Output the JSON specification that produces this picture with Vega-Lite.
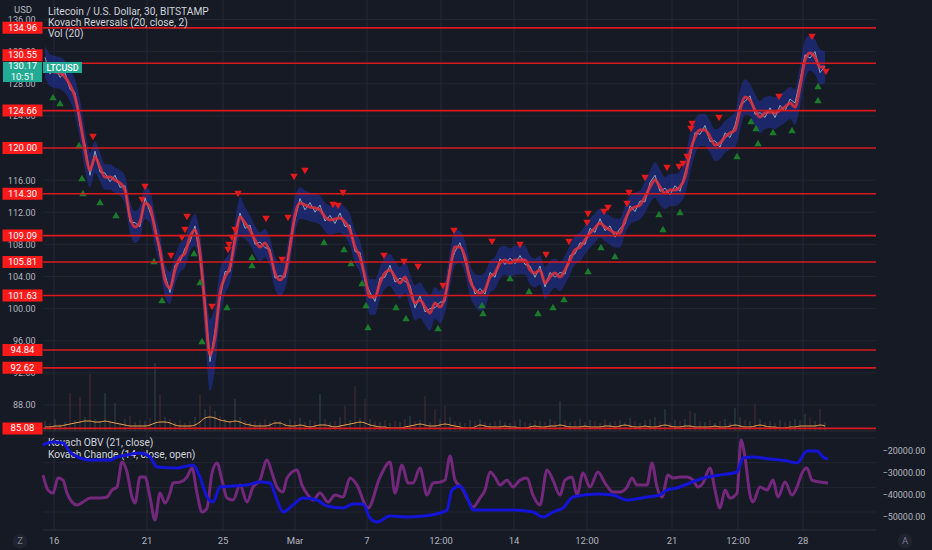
{
  "$schema": "https://vega.github.io/schema/vega-lite/v6.json",
  "description": "LTCUSD 30m with Kovach Reversals, Vol, Kovach OBV and Kovach Chande",
  "width": 833,
  "height": 530,
  "autosize": {"type": "none"},
  "padding": {"left": 43, "top": 0, "right": 56, "bottom": 20},
  "background": "#161a25",
  "config": {
    "view": {"stroke": null},
    "font": "Roboto",
    "axis": {"labelFont": "Roboto", "labelColor": "#b2b5be", "labelFontSize": 9, "grid": false, "domain": false, "ticks": false, "labelFlush": false, "labelOverlap": false, "labelBound": false}
  },
  "datasets": {
    "price": [
      {"i":0,"m":130.71,"h":132.71,"l":128.71,"c":131.3,"v":1000,"va":400},
      {"i":1,"m":129.71,"h":131.71,"l":127.71,"c":129.2,"v":800,"va":400},
      {"i":2,"m":129.46,"h":131.46,"l":127.46,"c":130.1,"v":1200,"va":500},
      {"i":3,"m":129.34,"h":131.34,"l":127.34,"c":128.8,"v":700,"va":500},
      {"i":4,"m":128.84,"h":130.84,"l":126.84,"c":129.4,"v":900,"va":600},
      {"i":5,"m":127.84,"h":129.84,"l":125.84,"c":127.3,"v":3800,"va":700},
      {"i":6,"m":126.35,"h":128.55,"l":124.15,"c":126.9,"v":1100,"va":800},
      {"i":7,"m":123.49,"h":125.99,"l":120.99,"c":122.8,"v":3400,"va":900},
      {"i":8,"m":119.75,"h":122.25,"l":117.25,"c":120.4,"v":1400,"va":1000},
      {"i":9,"m":117.26,"h":119.46,"l":115.06,"c":116.6,"v":5700,"va":1000},
      {"i":10,"m":118.88,"h":120.88,"l":116.88,"c":119.6,"v":1200,"va":900},
      {"i":11,"m":117.63,"h":119.43,"l":115.83,"c":117.0,"v":900,"va":900},
      {"i":12,"m":116.39,"h":117.99,"l":114.79,"c":116.9,"v":3800,"va":1000},
      {"i":13,"m":116.39,"h":117.99,"l":114.79,"c":115.8,"v":1000,"va":900},
      {"i":14,"m":116.01,"h":117.61,"l":114.41,"c":116.6,"v":2800,"va":800},
      {"i":15,"m":115.64,"h":117.24,"l":114.04,"c":115.1,"v":800,"va":700},
      {"i":16,"m":114.77,"h":116.57,"l":112.97,"c":115.3,"v":1200,"va":600},
      {"i":17,"m":111.41,"h":113.41,"l":109.41,"c":110.8,"v":1500,"va":500},
      {"i":18,"m":110.16,"h":112.16,"l":108.16,"c":110.7,"v":900,"va":500},
      {"i":19,"m":110.78,"h":112.78,"l":108.78,"c":110.2,"v":1100,"va":500},
      {"i":20,"m":113.15,"h":115.15,"l":111.15,"c":113.8,"v":1000,"va":500},
      {"i":21,"m":112.65,"h":114.65,"l":110.65,"c":112.0,"v":1300,"va":600},
      {"i":22,"m":109.79,"h":111.79,"l":107.79,"c":110.4,"v":6800,"va":800},
      {"i":23,"m":107.30,"h":109.30,"l":105.30,"c":106.7,"v":3700,"va":900},
      {"i":24,"m":103.56,"h":105.56,"l":101.56,"c":104.2,"v":1400,"va":900},
      {"i":25,"m":102.57,"h":104.57,"l":100.57,"c":102.0,"v":1200,"va":800},
      {"i":26,"m":104.81,"h":106.61,"l":103.01,"c":105.4,"v":900,"va":600},
      {"i":27,"m":106.30,"h":108.10,"l":104.50,"c":105.8,"v":1100,"va":500},
      {"i":28,"m":106.92,"h":108.72,"l":105.12,"c":107.5,"v":800,"va":500},
      {"i":29,"m":108.92,"h":110.72,"l":107.12,"c":108.3,"v":1000,"va":500},
      {"i":30,"m":109.79,"h":111.79,"l":107.79,"c":110.3,"v":1400,"va":600},
      {"i":31,"m":106.92,"h":109.42,"l":104.42,"c":106.2,"v":3700,"va":900},
      {"i":32,"m":100.20,"h":103.70,"l":96.70,"c":100.9,"v":2200,"va":1300},
      {"i":33,"m":94.22,"h":98.72,"l":89.72,"c":93.4,"v":2500,"va":1400},
      {"i":34,"m":96.46,"h":100.46,"l":92.46,"c":97.2,"v":2000,"va":1300},
      {"i":35,"m":101.94,"h":104.94,"l":98.94,"c":101.2,"v":1500,"va":1100},
      {"i":36,"m":103.94,"h":106.14,"l":101.74,"c":104.6,"v":1200,"va":1000},
      {"i":37,"m":105.18,"h":107.18,"l":103.18,"c":104.6,"v":1000,"va":900},
      {"i":38,"m":108.54,"h":110.74,"l":106.34,"c":109.2,"v":3200,"va":1000},
      {"i":39,"m":111.41,"h":113.91,"l":108.91,"c":111.9,"v":1400,"va":900},
      {"i":40,"m":110.66,"h":112.66,"l":108.66,"c":110.0,"v":1100,"va":700},
      {"i":41,"m":109.79,"h":111.59,"l":107.99,"c":110.4,"v":900,"va":600},
      {"i":42,"m":108.54,"h":110.34,"l":106.74,"c":108.0,"v":1000,"va":500},
      {"i":43,"m":107.67,"h":109.47,"l":105.87,"c":108.3,"v":800,"va":500},
      {"i":44,"m":108.17,"h":109.97,"l":106.37,"c":107.6,"v":1200,"va":500},
      {"i":45,"m":106.92,"h":108.72,"l":105.12,"c":107.4,"v":900,"va":600},
      {"i":46,"m":104.43,"h":106.43,"l":102.43,"c":103.8,"v":1100,"va":800},
      {"i":47,"m":103.56,"h":105.56,"l":101.56,"c":104.1,"v":1000,"va":800},
      {"i":48,"m":104.43,"h":106.43,"l":102.43,"c":103.9,"v":800,"va":600},
      {"i":49,"m":107.67,"h":109.87,"l":105.47,"c":108.3,"v":1200,"va":500},
      {"i":50,"m":111.66,"h":113.86,"l":109.46,"c":111.1,"v":1000,"va":500},
      {"i":51,"m":113.15,"h":115.15,"l":111.15,"c":113.7,"v":1300,"va":600},
      {"i":52,"m":112.90,"h":114.70,"l":111.10,"c":112.3,"v":900,"va":500},
      {"i":53,"m":112.65,"h":114.45,"l":110.85,"c":113.2,"v":1100,"va":400},
      {"i":54,"m":112.53,"h":114.33,"l":110.73,"c":112.0,"v":1000,"va":500},
      {"i":55,"m":112.28,"h":114.08,"l":110.48,"c":112.9,"v":3700,"va":600},
      {"i":56,"m":111.41,"h":113.21,"l":109.61,"c":110.9,"v":1200,"va":600},
      {"i":57,"m":111.03,"h":112.83,"l":109.23,"c":111.6,"v":900,"va":500},
      {"i":58,"m":111.16,"h":112.96,"l":109.36,"c":110.6,"v":1000,"va":400},
      {"i":59,"m":111.28,"h":113.08,"l":109.48,"c":111.9,"v":1400,"va":500},
      {"i":60,"m":110.78,"h":112.58,"l":108.98,"c":110.2,"v":2500,"va":600},
      {"i":61,"m":109.79,"h":111.79,"l":107.79,"c":110.4,"v":1100,"va":700},
      {"i":62,"m":107.67,"h":109.67,"l":105.67,"c":107.1,"v":4500,"va":800},
      {"i":63,"m":106.43,"h":108.43,"l":104.43,"c":107.0,"v":1300,"va":900},
      {"i":64,"m":103.94,"h":105.94,"l":101.94,"c":103.4,"v":3200,"va":800},
      {"i":65,"m":101.44,"h":103.64,"l":99.24,"c":102.0,"v":1200,"va":600},
      {"i":66,"m":101.44,"h":103.64,"l":99.24,"c":100.9,"v":1000,"va":500},
      {"i":67,"m":103.19,"h":105.19,"l":101.19,"c":103.8,"v":900,"va":400},
      {"i":68,"m":104.43,"h":106.43,"l":102.43,"c":103.9,"v":1100,"va":400},
      {"i":69,"m":104.81,"h":106.81,"l":102.81,"c":105.4,"v":800,"va":300},
      {"i":70,"m":103.94,"h":105.94,"l":101.94,"c":103.3,"v":1000,"va":300},
      {"i":71,"m":103.19,"h":105.19,"l":101.19,"c":103.8,"v":900,"va":300},
      {"i":72,"m":103.94,"h":105.94,"l":101.94,"c":103.4,"v":1200,"va":400},
      {"i":73,"m":102.32,"h":104.32,"l":100.32,"c":102.9,"v":1500,"va":500},
      {"i":74,"m":100.70,"h":102.90,"l":98.50,"c":100.1,"v":1000,"va":600},
      {"i":75,"m":101.07,"h":103.27,"l":98.87,"c":101.6,"v":1100,"va":700},
      {"i":76,"m":100.20,"h":102.40,"l":98.00,"c":99.6,"v":3500,"va":600},
      {"i":77,"m":99.45,"h":101.65,"l":97.25,"c":100.0,"v":900,"va":500},
      {"i":78,"m":100.70,"h":102.70,"l":98.70,"c":100.1,"v":2200,"va":500},
      {"i":79,"m":100.20,"h":102.20,"l":98.20,"c":100.8,"v":1200,"va":600},
      {"i":80,"m":101.44,"h":103.44,"l":99.44,"c":100.9,"v":2500,"va":700},
      {"i":81,"m":104.81,"h":107.01,"l":102.61,"c":105.4,"v":1400,"va":600},
      {"i":82,"m":107.67,"h":109.87,"l":105.47,"c":107.1,"v":1000,"va":500},
      {"i":83,"m":107.67,"h":109.67,"l":105.67,"c":108.2,"v":900,"va":400},
      {"i":84,"m":106.43,"h":108.43,"l":104.43,"c":105.9,"v":800,"va":300},
      {"i":85,"m":103.56,"h":105.56,"l":101.56,"c":104.1,"v":1100,"va":300},
      {"i":86,"m":102.32,"h":104.32,"l":100.32,"c":101.8,"v":1000,"va":400},
      {"i":87,"m":101.94,"h":104.14,"l":99.74,"c":102.5,"v":1200,"va":600},
      {"i":88,"m":102.32,"h":104.52,"l":100.12,"c":101.8,"v":900,"va":500},
      {"i":89,"m":103.94,"h":105.94,"l":101.94,"c":104.5,"v":800,"va":400},
      {"i":90,"m":104.43,"h":106.43,"l":102.43,"c":103.9,"v":1000,"va":400},
      {"i":91,"m":105.68,"h":107.68,"l":103.68,"c":106.2,"v":1100,"va":400},
      {"i":92,"m":106.05,"h":107.85,"l":104.25,"c":105.5,"v":900,"va":500},
      {"i":93,"m":105.68,"h":107.48,"l":103.88,"c":106.3,"v":800,"va":400},
      {"i":94,"m":106.05,"h":107.85,"l":104.25,"c":105.6,"v":1000,"va":400},
      {"i":95,"m":106.05,"h":107.85,"l":104.25,"c":106.6,"v":1200,"va":300},
      {"i":96,"m":106.05,"h":107.85,"l":104.25,"c":105.5,"v":900,"va":300},
      {"i":97,"m":104.81,"h":106.61,"l":103.01,"c":105.3,"v":800,"va":400},
      {"i":98,"m":104.43,"h":106.23,"l":102.63,"c":103.9,"v":1100,"va":500},
      {"i":99,"m":104.81,"h":106.61,"l":103.01,"c":105.3,"v":1000,"va":400},
      {"i":100,"m":103.19,"h":105.19,"l":101.19,"c":102.7,"v":900,"va":400},
      {"i":101,"m":103.94,"h":105.94,"l":101.94,"c":104.5,"v":1200,"va":500},
      {"i":102,"m":104.43,"h":106.23,"l":102.63,"c":103.9,"v":1000,"va":500},
      {"i":103,"m":103.94,"h":105.74,"l":102.14,"c":104.5,"v":3000,"va":600},
      {"i":104,"m":104.81,"h":106.61,"l":103.01,"c":104.3,"v":1100,"va":500},
      {"i":105,"m":106.05,"h":107.85,"l":104.25,"c":106.6,"v":900,"va":400},
      {"i":106,"m":107.30,"h":109.10,"l":105.50,"c":106.8,"v":1000,"va":400},
      {"i":107,"m":107.67,"h":109.47,"l":105.87,"c":108.2,"v":1200,"va":400},
      {"i":108,"m":108.54,"h":110.34,"l":106.74,"c":108.0,"v":900,"va":500},
      {"i":109,"m":109.41,"h":111.21,"l":107.61,"c":110.0,"v":1100,"va":400},
      {"i":110,"m":110.04,"h":111.84,"l":108.24,"c":109.5,"v":1000,"va":400},
      {"i":111,"m":110.66,"h":112.46,"l":108.86,"c":111.2,"v":800,"va":400},
      {"i":112,"m":110.16,"h":111.96,"l":108.36,"c":109.7,"v":1200,"va":500},
      {"i":113,"m":109.79,"h":111.59,"l":107.99,"c":110.3,"v":900,"va":500},
      {"i":114,"m":109.41,"h":111.21,"l":107.61,"c":108.9,"v":1000,"va":400},
      {"i":115,"m":109.41,"h":111.21,"l":107.61,"c":110.0,"v":1100,"va":500},
      {"i":116,"m":111.03,"h":112.83,"l":109.23,"c":110.5,"v":900,"va":600},
      {"i":117,"m":112.28,"h":114.08,"l":110.48,"c":112.8,"v":1300,"va":500},
      {"i":118,"m":112.65,"h":114.45,"l":110.85,"c":112.1,"v":1000,"va":400},
      {"i":119,"m":112.90,"h":114.70,"l":111.10,"c":113.4,"v":800,"va":400},
      {"i":120,"m":113.90,"h":115.90,"l":111.90,"c":113.3,"v":1100,"va":500},
      {"i":121,"m":115.14,"h":117.14,"l":113.14,"c":115.7,"v":1200,"va":400},
      {"i":122,"m":116.01,"h":118.21,"l":113.81,"c":116.6,"v":1400,"va":400},
      {"i":123,"m":115.14,"h":117.34,"l":112.94,"c":114.6,"v":1000,"va":500},
      {"i":124,"m":114.40,"h":116.40,"l":112.40,"c":115.0,"v":2200,"va":600},
      {"i":125,"m":114.77,"h":116.77,"l":112.77,"c":114.2,"v":900,"va":500},
      {"i":126,"m":114.77,"h":116.77,"l":112.77,"c":115.3,"v":1100,"va":400},
      {"i":127,"m":115.14,"h":117.14,"l":113.14,"c":114.6,"v":1000,"va":400},
      {"i":128,"m":116.39,"h":118.59,"l":114.19,"c":116.9,"v":1200,"va":500},
      {"i":129,"m":119.38,"h":121.88,"l":116.88,"c":118.8,"v":2000,"va":500},
      {"i":130,"m":121.37,"h":123.57,"l":119.17,"c":121.9,"v":1800,"va":400},
      {"i":131,"m":122.24,"h":124.24,"l":120.24,"c":121.7,"v":1000,"va":400},
      {"i":132,"m":122.24,"h":124.24,"l":120.24,"c":122.8,"v":900,"va":400},
      {"i":133,"m":121.37,"h":123.37,"l":119.37,"c":120.8,"v":1100,"va":400},
      {"i":134,"m":120.37,"h":122.37,"l":118.37,"c":120.9,"v":800,"va":500},
      {"i":135,"m":120.62,"h":122.62,"l":118.62,"c":120.1,"v":1000,"va":400},
      {"i":136,"m":121.37,"h":123.37,"l":119.37,"c":121.9,"v":1200,"va":400},
      {"i":137,"m":121.87,"h":123.87,"l":119.87,"c":121.3,"v":900,"va":500},
      {"i":138,"m":122.24,"h":124.44,"l":120.04,"c":122.8,"v":2300,"va":600},
      {"i":139,"m":124.73,"h":127.23,"l":122.23,"c":125.3,"v":1400,"va":500},
      {"i":140,"m":126.35,"h":128.55,"l":124.15,"c":125.8,"v":1100,"va":400},
      {"i":141,"m":125.98,"h":127.98,"l":123.98,"c":126.5,"v":1000,"va":400},
      {"i":142,"m":124.73,"h":126.73,"l":122.73,"c":124.2,"v":2700,"va":500},
      {"i":143,"m":123.86,"h":125.86,"l":121.86,"c":124.4,"v":1200,"va":600},
      {"i":144,"m":124.36,"h":126.36,"l":122.36,"c":123.8,"v":900,"va":500},
      {"i":145,"m":124.48,"h":126.48,"l":122.48,"c":125.0,"v":1000,"va":400},
      {"i":146,"m":124.36,"h":126.36,"l":122.36,"c":123.8,"v":800,"va":400},
      {"i":147,"m":124.73,"h":126.73,"l":122.73,"c":125.3,"v":1100,"va":300},
      {"i":148,"m":125.11,"h":127.11,"l":123.11,"c":124.6,"v":900,"va":300},
      {"i":149,"m":125.60,"h":127.60,"l":123.60,"c":126.1,"v":1000,"va":400},
      {"i":150,"m":125.11,"h":127.31,"l":122.91,"c":125.6,"v":1200,"va":400},
      {"i":151,"m":127.60,"h":130.10,"l":125.10,"c":128.4,"v":1100,"va":500},
      {"i":152,"m":130.96,"h":133.46,"l":128.46,"c":131.6,"v":1700,"va":500},
      {"i":153,"m":131.83,"h":134.03,"l":129.63,"c":131.2,"v":1300,"va":500},
      {"i":154,"m":131.33,"h":133.53,"l":129.13,"c":132.0,"v":1000,"va":500},
      {"i":155,"m":130.09,"h":132.29,"l":127.89,"c":129.4,"v":2200,"va":600},
      {"i":156,"m":130.09,"h":132.09,"l":128.09,"c":130.17,"v":900,"va":500}
    ],
    "signals": [
      {"i":9.6,"p":121.37,"t":"sell"},{"i":20,"p":115.14,"t":"sell"},{"i":19.4,"p":113.52,"t":"sell"},
      {"i":28.4,"p":111.41,"t":"sell"},{"i":28,"p":109.79,"t":"sell"},{"i":27.4,"p":108.79,"t":"sell"},
      {"i":25.2,"p":106.55,"t":"sell"},{"i":33.4,"p":100.2,"t":"sell"},{"i":36.8,"p":107.92,"t":"sell"},
      {"i":36.6,"p":107.3,"t":"sell"},{"i":37.4,"p":108.79,"t":"sell"},{"i":38,"p":109.79,"t":"sell"},
      {"i":38.6,"p":114.27,"t":"sell"},{"i":44.2,"p":111.16,"t":"sell"},{"i":48.6,"p":111.28,"t":"sell"},
      {"i":47.4,"p":106.05,"t":"sell"},{"i":49.8,"p":116.39,"t":"sell"},{"i":52,"p":117.14,"t":"sell"},
      {"i":59.6,"p":114.4,"t":"sell"},{"i":57.6,"p":112.9,"t":"sell"},{"i":58.6,"p":112.78,"t":"sell"},
      {"i":67.8,"p":106.55,"t":"sell"},{"i":71.8,"p":105.8,"t":"sell"},{"i":74.6,"p":105.18,"t":"sell"},
      {"i":79.6,"p":102.81,"t":"sell"},{"i":81.8,"p":109.66,"t":"sell"},{"i":89.4,"p":108.29,"t":"sell"},
      {"i":95,"p":107.92,"t":"sell"},{"i":100.2,"p":106.68,"t":"sell"},{"i":104.8,"p":108.29,"t":"sell"},
      {"i":108.4,"p":110.66,"t":"sell"},{"i":108.6,"p":111.78,"t":"sell"},{"i":111.8,"p":112.03,"t":"sell"},
      {"i":112.6,"p":112.53,"t":"sell"},{"i":116.4,"p":113.03,"t":"sell"},{"i":116.8,"p":114.4,"t":"sell"},
      {"i":120,"p":116.26,"t":"sell"},{"i":124.4,"p":117.51,"t":"sell"},{"i":126.8,"p":117.63,"t":"sell"},
      {"i":127.6,"p":118.01,"t":"sell"},{"i":128.4,"p":118.88,"t":"sell"},{"i":129.2,"p":122.37,"t":"sell"},
      {"i":129.4,"p":122.99,"t":"sell"},{"i":134.8,"p":123.74,"t":"sell"},{"i":146.8,"p":126.35,"t":"sell"},
      {"i":153.4,"p":133.82,"t":"sell"},{"i":156.2,"p":129.46,"t":"sell"},
      {"i":1.6,"p":126.35,"t":"buy"},{"i":3,"p":125.6,"t":"buy"},{"i":6.8,"p":120.37,"t":"buy"},
      {"i":7.4,"p":116.26,"t":"buy"},{"i":7.6,"p":114.4,"t":"buy"},{"i":11,"p":113.28,"t":"buy"},
      {"i":14.2,"p":111.66,"t":"buy"},{"i":21.8,"p":105.93,"t":"buy"},{"i":23.4,"p":101.07,"t":"buy"},
      {"i":29.8,"p":106.92,"t":"buy"},{"i":31,"p":103.31,"t":"buy"},{"i":31.4,"p":95.97,"t":"buy"},
      {"i":36.4,"p":100.2,"t":"buy"},{"i":41.4,"p":106.43,"t":"buy"},{"i":41.4,"p":105.43,"t":"buy"},
      {"i":55.8,"p":108.29,"t":"buy"},{"i":59.8,"p":107.42,"t":"buy"},{"i":61.2,"p":105.68,"t":"buy"},
      {"i":63.4,"p":103.19,"t":"buy"},{"i":64.2,"p":100.45,"t":"buy"},{"i":64.6,"p":97.71,"t":"buy"},
      {"i":70.2,"p":100.2,"t":"buy"},{"i":72.2,"p":98.83,"t":"buy"},{"i":78.6,"p":97.58,"t":"buy"},
      {"i":87.4,"p":100.45,"t":"buy"},{"i":87.6,"p":99.45,"t":"buy"},{"i":93,"p":103.81,"t":"buy"},
      {"i":96.8,"p":102.19,"t":"buy"},{"i":98.6,"p":99.45,"t":"buy"},{"i":101.6,"p":100.2,"t":"buy"},
      {"i":103.8,"p":101.2,"t":"buy"},{"i":108.6,"p":104.68,"t":"buy"},{"i":111.2,"p":107.67,"t":"buy"},
      {"i":114,"p":106.55,"t":"buy"},{"i":122.8,"p":111.78,"t":"buy"},{"i":123.6,"p":109.91,"t":"buy"},
      {"i":127,"p":112.03,"t":"buy"},{"i":138.4,"p":119,"t":"buy"},{"i":141.2,"p":123.36,"t":"buy"},
      {"i":142.2,"p":122.49,"t":"buy"},{"i":142.6,"p":120.62,"t":"buy"},{"i":145.6,"p":121.99,"t":"buy"},
      {"i":149.4,"p":122.24,"t":"buy"},{"i":154.6,"p":125.98,"t":"buy"},{"i":154.6,"p":127.72,"t":"buy"}
    ],
    "levels": [
      {"lv":134.96},{"lv":130.55},{"lv":124.66},{"lv":120.00},{"lv":114.30},{"lv":109.09},
      {"lv":105.81},{"lv":101.63},{"lv":94.84},{"lv":92.62},{"lv":85.08}
    ],
    "xgrid": [
      {"g":1.8,"lab":"16"},{"g":20.4,"lab":"21"},{"g":35.6,"lab":"25"},{"g":50,"lab":"Mar"},
      {"g":64.4,"lab":"7"},{"g":79.2,"lab":"12:00"},{"g":93.8,"lab":"14"},{"g":108.4,"lab":"12:00"},
      {"g":125.4,"lab":"21"},{"g":138.6,"lab":"12:00"},{"g":151.6,"lab":"28"}
    ],
    "pgrid": [{"g":88},{"g":92},{"g":96},{"g":100},{"g":104},{"g":108},{"g":112},{"g":116},{"g":120},{"g":124},{"g":128},{"g":132},{"g":136}],
    "cgrid": [{"g":-40},{"g":0},{"g":40},{"g":80}],
    "chande": [
      {"i":-0.4,"ch":19.9},{"i":0.6,"ch":-4.4},{"i":1.6,"ch":-9.2},{"i":2.6,"ch":15.1},{"i":3.6,"ch":11.8},
      {"i":4.4,"ch":-9.2},{"i":5.4,"ch":-23.8},{"i":6.4,"ch":-28.7},{"i":7.6,"ch":-23.8},{"i":9,"ch":-17.3},
      {"i":11,"ch":-17.3},{"i":12.4,"ch":-15.7},{"i":13.4,"ch":-4.4},{"i":14.4,"ch":0.5},{"i":15.4,"ch":41.0},
      {"i":16.4,"ch":24.8},{"i":17.4,"ch":-15.7},{"i":18,"ch":-25.4},{"i":19,"ch":16.7},{"i":20,"ch":16.7},
      {"i":21,"ch":-15.7},{"i":22,"ch":-53.0},{"i":23,"ch":-9.2},{"i":24,"ch":-25.4},{"i":25,"ch":-9.2},
      {"i":25.6,"ch":7.0},{"i":27,"ch":8.6},{"i":28.4,"ch":16.7},{"i":29.4,"ch":31.3},{"i":30.4,"ch":-9.2},
      {"i":31.4,"ch":-40.0},{"i":32.4,"ch":-33.6},{"i":33.4,"ch":23.2},{"i":34.4,"ch":39.4},{"i":35.4,"ch":11.8},
      {"i":36.4,"ch":-17.3},{"i":37.6,"ch":-20.6},{"i":39,"ch":3.7},{"i":40.4,"ch":-23.8},{"i":41.6,"ch":0.5},
      {"i":43,"ch":11.8},{"i":44.4,"ch":44.3},{"i":45.4,"ch":23.2},{"i":46.4,"ch":0.5},{"i":47.6,"ch":-7.6},
      {"i":48.4,"ch":15.1},{"i":50.4,"ch":28.1},{"i":51.4,"ch":3.7},{"i":52.6,"ch":-12.5},{"i":53.6,"ch":-20.6},
      {"i":55,"ch":-9.2},{"i":56.6,"ch":-23.8},{"i":58,"ch":-12.5},{"i":59.6,"ch":-15.7},{"i":61,"ch":15.1},
      {"i":62.4,"ch":3.7},{"i":64.6,"ch":-33.6},{"i":67,"ch":16.7},{"i":69,"ch":41.0},{"i":70,"ch":-9.2},
      {"i":71.4,"ch":36.2},{"i":72.6,"ch":7.0},{"i":73.6,"ch":7.0},{"i":75,"ch":31.3},{"i":76.4,"ch":-12.5},
      {"i":77.6,"ch":7.0},{"i":79,"ch":8.6},{"i":80,"ch":11.8},{"i":81,"ch":50.8},{"i":82,"ch":11.8},
      {"i":83.4,"ch":-1.1},{"i":84.6,"ch":-20.6},{"i":85.6,"ch":-31.9},{"i":87,"ch":-17.3},{"i":88,"ch":-4.4},
      {"i":89,"ch":24.8},{"i":90,"ch":16.7},{"i":91,"ch":3.7},{"i":92.4,"ch":11.8},{"i":93.6,"ch":0.5},
      {"i":95,"ch":11.8},{"i":96.4,"ch":15.1},{"i":97.6,"ch":-12.5},{"i":99,"ch":-28.7},{"i":100.4,"ch":28.1},
      {"i":101.6,"ch":11.8},{"i":103,"ch":-12.5},{"i":104,"ch":11.8},{"i":105.4,"ch":16.7},{"i":106.4,"ch":-12.5},
      {"i":107.6,"ch":23.2},{"i":109,"ch":0.5},{"i":110.6,"ch":24.8},{"i":112,"ch":7.0},{"i":113.6,"ch":-7.6},
      {"i":115,"ch":-7.6},{"i":116.4,"ch":0.5},{"i":117.4,"ch":15.1},{"i":118.4,"ch":3.7},{"i":120.4,"ch":3.7},
      {"i":121.4,"ch":39.4},{"i":122.4,"ch":0.5},{"i":123.4,"ch":-15.7},{"i":124.6,"ch":19.9},{"i":125.6,"ch":15.1},
      {"i":127,"ch":16.7},{"i":128.4,"ch":16.7},{"i":129.6,"ch":11.8},{"i":130.6,"ch":0.5},{"i":131.6,"ch":7.0},
      {"i":133,"ch":31.3},{"i":134,"ch":-4.4},{"i":135,"ch":-33.6},{"i":136,"ch":-4.4},{"i":137,"ch":-17.3},
      {"i":138.4,"ch":-9.2},{"i":139.2,"ch":76.7},{"i":140,"ch":49.1},{"i":141,"ch":-12.5},{"i":141.6,"ch":-23.8},
      {"i":143,"ch":0.5},{"i":144.4,"ch":-4.4},{"i":145.6,"ch":11.8},{"i":146.6,"ch":-15.7},{"i":148,"ch":8.6},
      {"i":149.4,"ch":-12.5},{"i":150.4,"ch":0.5},{"i":151.4,"ch":23.2},{"i":152.4,"ch":31.3},{"i":153.4,"ch":11.8},
      {"i":155,"ch":8.6},{"i":156.6,"ch":7.0}
    ],
    "obv": [
      {"i":-0.4,"obv":-17273},{"i":1.6,"obv":-15910},{"i":3.6,"obv":-16364},{"i":5,"obv":-20455},
      {"i":7,"obv":-23182},{"i":9,"obv":-24091},{"i":13,"obv":-24091},{"i":14.4,"obv":-22727},
      {"i":16.4,"obv":-21818},{"i":19,"obv":-20909},{"i":21,"obv":-22727},{"i":22.4,"obv":-27273},
      {"i":26.4,"obv":-27727},{"i":29.6,"obv":-26364},{"i":31,"obv":-31818},{"i":32.4,"obv":-40909},
      {"i":33.6,"obv":-43182},{"i":35,"obv":-36364},{"i":40.4,"obv":-35455},{"i":43,"obv":-34091},
      {"i":45,"obv":-34545},{"i":46.4,"obv":-42273},{"i":47.6,"obv":-47727},{"i":49.6,"obv":-44545},
      {"i":51.6,"obv":-41364},{"i":54.4,"obv":-42273},{"i":56.4,"obv":-45000},{"i":59.6,"obv":-45909},
      {"i":61.6,"obv":-44091},{"i":63.6,"obv":-44091},{"i":65,"obv":-50455},{"i":66.4,"obv":-52273},
      {"i":69,"obv":-49545},{"i":72.4,"obv":-50000},{"i":75.6,"obv":-49545},{"i":79,"obv":-48182},
      {"i":80.4,"obv":-46818},{"i":81.4,"obv":-37727},{"i":83,"obv":-35909},{"i":84.4,"obv":-40909},
      {"i":85.6,"obv":-46818},{"i":93.6,"obv":-46818},{"i":97.6,"obv":-47727},{"i":99.6,"obv":-50000},
      {"i":101.6,"obv":-47727},{"i":103.6,"obv":-45909},{"i":105.6,"obv":-40909},{"i":110.4,"obv":-39545},
      {"i":113.6,"obv":-40000},{"i":116.4,"obv":-42273},{"i":120.4,"obv":-40909},{"i":123,"obv":-40000},
      {"i":124.4,"obv":-37727},{"i":126.4,"obv":-36818},{"i":129,"obv":-34545},{"i":132.4,"obv":-31818},
      {"i":135,"obv":-30909},{"i":138.4,"obv":-29545},{"i":139.6,"obv":-23182},{"i":141.6,"obv":-22727},
      {"i":145,"obv":-23636},{"i":148.4,"obv":-24545},{"i":150.4,"obv":-25455},{"i":152.4,"obv":-20000},
      {"i":154.4,"obv":-20000},{"i":155.6,"obv":-22727},{"i":156.6,"obv":-23636}
    ]
  },
  "layer": [
    {
      "layer": [
        {
          "data": {"name": "pgrid"},
          "mark": {"type": "rule", "color": "#222633", "strokeWidth": 1},
          "encoding": {
            "y": {
              "field": "g", "type": "quantitative",
              "scale": {"domain": [72.43, 138.43], "nice": false, "zero": false},
              "axis": {"orient": "left", "values": [88, 92, 96, 100, 104, 108, 112, 116, 120, 124, 128, 132, 136], "format": ".2f", "title": null, "labelPadding": 8}
            }
          }
        },
        {
          "data": {"name": "xgrid"},
          "mark": {"type": "rule", "color": "#252936", "strokeWidth": 1},
          "encoding": {
            "x": {"field": "g", "type": "quantitative", "scale": {"domain": [-0.4, 166.2], "nice": false, "zero": false}, "axis": null}
          }
        },
        {
          "data": {"name": "price"},
          "mark": {"type": "rule", "strokeWidth": 1, "opacity": 0.4},
          "encoding": {
            "x": {"field": "i", "type": "quantitative", "axis": null},
            "y": {"field": "v", "type": "quantitative", "scale": {"domain": [-9900, 43100], "nice": false, "zero": false}, "axis": null},
            "y2": {"datum": 0},
            "color": {"condition": {"test": "datum.c >= datum.m", "value": "#5a8f8a"}, "value": "#9a4a48"}
          }
        },
        {
          "data": {"name": "price"},
          "mark": {"type": "line", "color": "#f0a04b", "strokeWidth": 1, "interpolate": "monotone"},
          "encoding": {
            "x": {"field": "i", "type": "quantitative", "axis": null},
            "y": {"field": "va", "type": "quantitative", "scale": {"domain": [-9900, 43100], "nice": false, "zero": false}, "axis": null}
          }
        }
      ],
      "resolve": {"scale": {"y": "independent"}}
    },
    {
      "layer": [
        {
          "data": {"name": "price"},
          "mark": {"type": "area", "color": "#2333a3", "opacity": 0.55, "interpolate": "monotone"},
          "encoding": {
            "x": {"field": "i", "type": "quantitative", "axis": null},
            "y": {"field": "l", "type": "quantitative", "scale": {"domain": [72.43, 138.43], "nice": false, "zero": false}, "axis": null},
            "y2": {"field": "h"}
          }
        },
        {
          "data": {"name": "price"},
          "mark": {"type": "line", "color": "#b6c9d0", "strokeWidth": 1, "opacity": 0.75},
          "encoding": {
            "x": {"field": "i", "type": "quantitative", "axis": null},
            "y": {"field": "c", "type": "quantitative", "axis": null}
          }
        },
        {
          "data": {"name": "price"},
          "mark": {"type": "line", "color": "#e0313b", "strokeWidth": 3, "opacity": 0.85, "interpolate": "monotone"},
          "encoding": {
            "x": {"field": "i", "type": "quantitative", "axis": null},
            "y": {"field": "m", "type": "quantitative", "axis": null}
          }
        },
        {
          "data": {"name": "signals"},
          "mark": {"type": "point", "filled": true, "size": 55, "opacity": 1},
          "encoding": {
            "x": {"field": "i", "type": "quantitative", "axis": null},
            "y": {"field": "p", "type": "quantitative", "axis": null},
            "shape": {"field": "t", "type": "nominal", "scale": {"domain": ["sell", "buy"], "range": ["triangle-down", "triangle-up"]}, "legend": null},
            "color": {"field": "t", "type": "nominal", "scale": {"domain": ["sell", "buy"], "range": ["#e3191c", "#1c7a2c"]}, "legend": null}
          }
        },
        {
          "data": {"name": "levels"},
          "mark": {"type": "rule", "color": "#d81a1f", "strokeWidth": 1.6},
          "encoding": {"y": {"field": "lv", "type": "quantitative", "axis": null}}
        },
        {
          "data": {"values": [{}]},
          "mark": {"type": "rule", "color": "#2a2e39", "strokeWidth": 1},
          "encoding": {"y": {"datum": 84.76, "axis": null}}
        },
        {
          "data": {"name": "levels"},
          "transform": [{"filter": "datum.lv != 130.55"}],
          "mark": {"type": "tick", "orient": "horizontal", "size": 40, "thickness": 12, "color": "#ff1a1a", "opacity": 1},
          "encoding": {
            "x": {"datum": -4.5, "axis": null},
            "y": {"field": "lv", "type": "quantitative", "axis": null}
          }
        },
        {
          "data": {"name": "levels"},
          "transform": [{"filter": "datum.lv != 130.55"}],
          "mark": {"type": "text", "color": "#ffffff", "fontSize": 9.5, "align": "center", "baseline": "middle"},
          "encoding": {
            "x": {"datum": -4.5, "axis": null},
            "y": {"field": "lv", "type": "quantitative", "axis": null},
            "text": {"field": "lv", "format": ".2f"}
          }
        },
        {
          "data": {"name": "levels"},
          "transform": [{"filter": "datum.lv == 130.55"}],
          "mark": {"type": "tick", "orient": "horizontal", "size": 40, "thickness": 12, "color": "#ff1a1a", "opacity": 1, "yOffset": -8},
          "encoding": {
            "x": {"datum": -4.5, "axis": null},
            "y": {"field": "lv", "type": "quantitative", "axis": null}
          }
        },
        {
          "data": {"name": "levels"},
          "transform": [{"filter": "datum.lv == 130.55"}],
          "mark": {"type": "text", "color": "#ffffff", "fontSize": 9.5, "align": "center", "baseline": "middle", "yOffset": -8},
          "encoding": {
            "x": {"datum": -4.5, "axis": null},
            "y": {"field": "lv", "type": "quantitative", "axis": null},
            "text": {"field": "lv", "format": ".2f"}
          }
        },
        {
          "data": {"values": [{}]},
          "mark": {"type": "tick", "orient": "horizontal", "size": 39, "thickness": 20, "color": "#22ab94", "opacity": 1},
          "encoding": {"x": {"datum": -4.5, "axis": null}, "y": {"datum": 129.46, "axis": null}}
        },
        {
          "data": {"values": [{}]},
          "mark": {"type": "tick", "orient": "horizontal", "size": 39, "thickness": 11, "color": "#22ab94", "opacity": 1},
          "encoding": {"x": {"datum": 3.5, "axis": null}, "y": {"datum": 130.02, "axis": null}}
        },
        {
          "data": {"values": [{}]},
          "mark": {"type": "text", "color": "#ffffff", "fontSize": 9.5, "align": "center", "baseline": "middle"},
          "encoding": {"x": {"datum": -4.5, "axis": null}, "y": {"datum": 130.15, "axis": null}, "text": {"value": "130.17"}}
        },
        {
          "data": {"values": [{}]},
          "mark": {"type": "text", "color": "#ffffff", "fontSize": 9.5, "align": "center", "baseline": "middle"},
          "encoding": {"x": {"datum": -4.5, "axis": null}, "y": {"datum": 128.84, "axis": null}, "text": {"value": "10:51"}}
        },
        {
          "data": {"values": [{}]},
          "mark": {"type": "text", "color": "#ffffff", "fontSize": 9, "fontWeight": 500, "align": "center", "baseline": "middle"},
          "encoding": {"x": {"datum": 3.5, "axis": null}, "y": {"datum": 130.02, "axis": null}, "text": {"value": "LTCUSD"}}
        },
        {
          "data": {"values": [{}]},
          "mark": {"type": "text", "color": "#b2b5be", "fontSize": 9.5, "align": "center", "baseline": "middle"},
          "encoding": {"x": {"datum": -4.4, "axis": null}, "y": {"datum": 137.18, "axis": null}, "text": {"value": "USD"}}
        },
        {
          "data": {"values": [{}]},
          "mark": {"type": "text", "color": "#d1d4dc", "fontSize": 10.2, "align": "left", "baseline": "middle"},
          "encoding": {"x": {"datum": 0.6, "axis": null}, "y": {"datum": 136.94, "axis": null}, "text": {"value": "Litecoin / U.S. Dollar, 30, BITSTAMP"}}
        },
        {
          "data": {"values": [{}]},
          "mark": {"type": "text", "color": "#d1d4dc", "fontSize": 10.2, "align": "left", "baseline": "middle"},
          "encoding": {"x": {"datum": 0.6, "axis": null}, "y": {"datum": 135.57, "axis": null}, "text": {"value": "Kovach Reversals (20, close, 2)"}}
        },
        {
          "data": {"values": [{}]},
          "mark": {"type": "text", "color": "#d1d4dc", "fontSize": 10.2, "align": "left", "baseline": "middle"},
          "encoding": {"x": {"datum": 0.6, "axis": null}, "y": {"datum": 134.2, "axis": null}, "text": {"value": "Vol (20)"}}
        }
      ]
    },
    {
      "layer": [
        {
          "data": {"name": "cgrid"},
          "mark": {"type": "rule", "color": "#222633", "strokeWidth": 1},
          "encoding": {
            "y": {
              "field": "g", "type": "quantitative",
              "scale": {"domain": [-69.1, 790.3], "nice": false, "zero": false},
              "axis": {"orient": "left", "values": [-40, 0, 40, 80], "format": ".2f", "title": null, "labelPadding": 8}
            }
          }
        },
        {
          "data": {"values": [{}]},
          "mark": {"type": "rule", "color": "#2a2e39", "strokeWidth": 1},
          "encoding": {"y": {"datum": -69.1, "axis": null}}
        },
        {
          "data": {"name": "chande"},
          "mark": {"type": "line", "color": "#7e2a86", "strokeWidth": 3, "opacity": 0.9, "interpolate": "monotone"},
          "encoding": {
            "x": {"field": "i", "type": "quantitative", "axis": null},
            "y": {"field": "ch", "type": "quantitative", "axis": null}
          }
        },
        {
          "data": {"values": [{}]},
          "mark": {"type": "text", "color": "#d1d4dc", "fontSize": 10.2, "align": "left", "baseline": "middle"},
          "encoding": {"x": {"datum": 0.6, "axis": null}, "y": {"datum": 71.8, "axis": null}, "text": {"value": "Kovach OBV (21, close)"}}
        },
        {
          "data": {"values": [{}]},
          "mark": {"type": "text", "color": "#d1d4dc", "fontSize": 10.2, "align": "left", "baseline": "middle"},
          "encoding": {"x": {"datum": 0.6, "axis": null}, "y": {"datum": 52.4, "axis": null}, "text": {"value": "Kovach Chande (14, close, open)"}}
        },
        {
          "data": {"name": "xgrid"},
          "mark": {"type": "text", "color": "#b2b5be", "fontSize": 9.5, "align": "center", "baseline": "middle"},
          "encoding": {"x": {"field": "g", "type": "quantitative", "axis": null}, "y": {"datum": -87.1, "axis": null}, "text": {"field": "lab"}}
        },
        {
          "data": {"values": [{"b": "Z", "x": -5}, {"b": "A", "x": 172}]},
          "mark": {"type": "point", "filled": true, "size": 220, "color": "#1f2330", "opacity": 1},
          "encoding": {"x": {"field": "x", "type": "quantitative", "axis": null}, "y": {"datum": -87.1, "axis": null}}
        },
        {
          "data": {"values": [{"b": "Z", "x": -5}, {"b": "A", "x": 172}]},
          "mark": {"type": "text", "color": "#787b86", "fontSize": 9.5, "align": "center", "baseline": "middle"},
          "encoding": {"x": {"field": "x", "type": "quantitative", "axis": null}, "y": {"datum": -87.1, "axis": null}, "text": {"field": "b"}}
        }
      ]
    },
    {
      "layer": [
        {
          "data": {"name": "obv"},
          "mark": {"type": "line", "color": "#1414d8", "strokeWidth": 3, "interpolate": "monotone"},
          "encoding": {
            "x": {"field": "i", "type": "quantitative", "axis": null},
            "y": {
              "field": "obv", "type": "quantitative",
              "scale": {"domain": [-55909, 184976], "nice": false, "zero": false},
              "axis": {"orient": "right", "values": [-50000, -40000, -30000, -20000], "format": ".2f", "title": null, "labelPadding": 6}
            }
          }
        }
      ]
    }
  ],
  "resolve": {"scale": {"y": "independent"}}
}
